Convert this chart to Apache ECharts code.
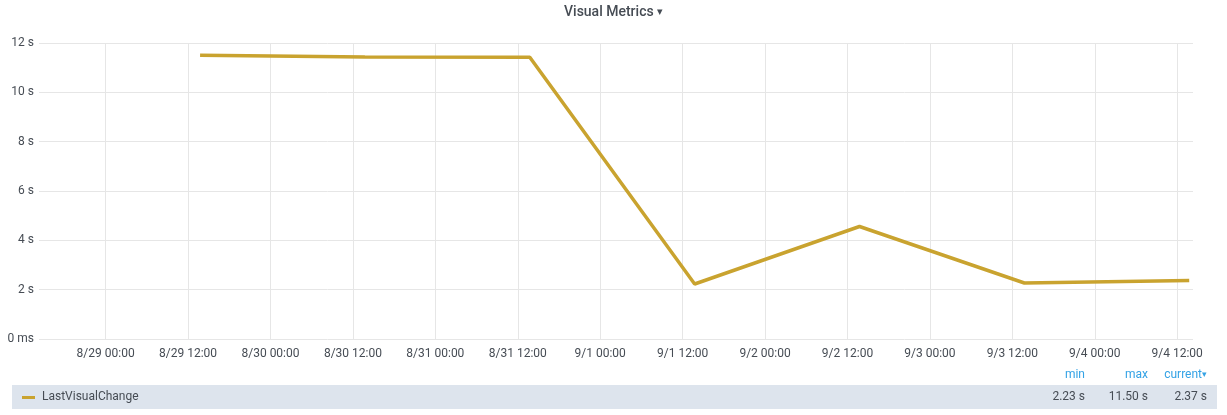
<!DOCTYPE html>
<html>
<head>
<meta charset="utf-8">
<script src="https://cdn.jsdelivr.net/npm/echarts@6/dist/echarts.min.js"></script>
<style>
html,body{margin:0;padding:0;background:#fff;}
#chart{width:1227px;height:415px;}
</style>
</head>
<body>
<div id="chart"></div>
<script>
// ---- data ----
var seriesName = 'LastVisualChange';
var times = [
  '2019-08-29 13:45', '2019-08-30 13:45', '2019-08-31 13:45',
  '2019-09-01 13:45', '2019-09-02 13:45', '2019-09-03 13:45', '2019-09-04 13:45'
];
var values = [11.50, 11.43, 11.42, 2.23, 4.56, 2.27, 2.37];
var rangeStart = '2019-08-28 14:18';
var rangeEnd = '2019-09-04 14:18';
var xTickTimes = [
  '2019-08-29 00:00', '2019-08-29 12:00', '2019-08-30 00:00', '2019-08-30 12:00',
  '2019-08-31 00:00', '2019-08-31 12:00', '2019-09-01 00:00', '2019-09-01 12:00',
  '2019-09-02 00:00', '2019-09-02 12:00', '2019-09-03 00:00', '2019-09-03 12:00',
  '2019-09-04 00:00', '2019-09-04 12:00'
];
var yTicks = [0, 2, 4, 6, 8, 10, 12];
var legendHeaders = ['min', 'max', 'current'];

function parseLocal(s) {
  var p = s.split(/[- :]/).map(Number);
  return new Date(p[0], p[1] - 1, p[2], p[3], p[4]).getTime();
}
function pad(n) { return (n < 10 ? '0' : '') + n; }

var data = times.map(function (t, i) { return [parseLocal(t), values[i]]; });
var xTickValues = xTickTimes.map(parseLocal);
var minV = Math.min.apply(null, values);
var maxV = Math.max.apply(null, values);
var curV = values[values.length - 1];

var FONT = 'Roboto, "Noto Sans", sans-serif';
var TXT = '#464c54';
var LINE = '#c9a32f';
var BLUE = '#33a2e5';

var chart = echarts.init(document.getElementById('chart'), null, {renderer: 'canvas'});
chart.setOption({
  animation: false,
  backgroundColor: '#fff',
  textStyle: {fontFamily: FONT},
  grid: {left: 39, right: 34, top: 43, bottom: 76},
  xAxis: {
    type: 'value',
    min: parseLocal(rangeStart),
    max: parseLocal(rangeEnd),
    axisLine: {show: false},
    axisTick: {show: false, customValues: xTickValues},
    splitLine: {show: true, lineStyle: {color: '#e6e6e6', width: 1}},
    axisLabel: {
      customValues: xTickValues,
      color: TXT, fontSize: 12, fontFamily: FONT, margin: 9,
      formatter: function (v) {
        var d = new Date(v);
        return (d.getMonth() + 1) + '/' + d.getDate() + ' ' + pad(d.getHours()) + ':' + pad(d.getMinutes());
      }
    }
  },
  yAxis: {
    type: 'value',
    min: yTicks[0],
    max: yTicks[yTicks.length - 1],
    interval: yTicks[1] - yTicks[0],
    axisLine: {show: false},
    axisTick: {show: false},
    splitLine: {show: true, lineStyle: {color: '#e6e6e6', width: 1}},
    axisLabel: {
      color: TXT, fontSize: 12, fontFamily: FONT, margin: 5,
      formatter: function (v) { return v === 0 ? '0 ms' : v + ' s'; }
    }
  },
  series: [{
    name: seriesName,
    type: 'line',
    data: data,
    showSymbol: false,
    symbol: 'none',
    lineStyle: {color: LINE, width: 3.5},
    itemStyle: {color: LINE}
  }],
  graphic: [
    {
      type: 'text', left: 'center', top: 5,
      style: {
        text: '{a|Visual Metrics} {b|▾}',
        rich: {
          a: {fontSize: 14, fontWeight: 500, fill: TXT, fontFamily: FONT},
          b: {fontSize: 11, fill: TXT, fontFamily: FONT}
        }
      }
    },
    {type: 'rect', shape: {x: 12, y: 385, width: 1205, height: 24}, style: {fill: '#dde4ed'}},
    {type: 'rect', shape: {x: 22, y: 396, width: 13, height: 3}, style: {fill: LINE}},
    {type: 'text', x: 42, y: 397, style: {text: seriesName, fill: TXT, fontSize: 12, fontFamily: FONT, verticalAlign: 'middle'}},
    {type: 'text', x: 1085, y: 375, style: {text: legendHeaders[0], fill: BLUE, fontSize: 12, fontFamily: FONT, align: 'right', verticalAlign: 'middle'}},
    {type: 'text', x: 1148, y: 375, style: {text: legendHeaders[1], fill: BLUE, fontSize: 12, fontFamily: FONT, align: 'right', verticalAlign: 'middle'}},
    {type: 'text', x: 1207, y: 375, style: {text: '{c|' + legendHeaders[2] + '}{d|▾}', align: 'right', verticalAlign: 'middle',
      rich: {c: {fill: BLUE, fontSize: 12, fontFamily: FONT}, d: {fill: BLUE, fontSize: 9, fontFamily: FONT}}}},
    {type: 'text', x: 1085, y: 397, style: {text: minV.toFixed(2) + ' s', fill: TXT, fontSize: 12, fontFamily: FONT, align: 'right', verticalAlign: 'middle'}},
    {type: 'text', x: 1148, y: 397, style: {text: maxV.toFixed(2) + ' s', fill: TXT, fontSize: 12, fontFamily: FONT, align: 'right', verticalAlign: 'middle'}},
    {type: 'text', x: 1207, y: 397, style: {text: curV.toFixed(2) + ' s', fill: TXT, fontSize: 12, fontFamily: FONT, align: 'right', verticalAlign: 'middle'}}
  ]
});
</script>
</body>
</html>
